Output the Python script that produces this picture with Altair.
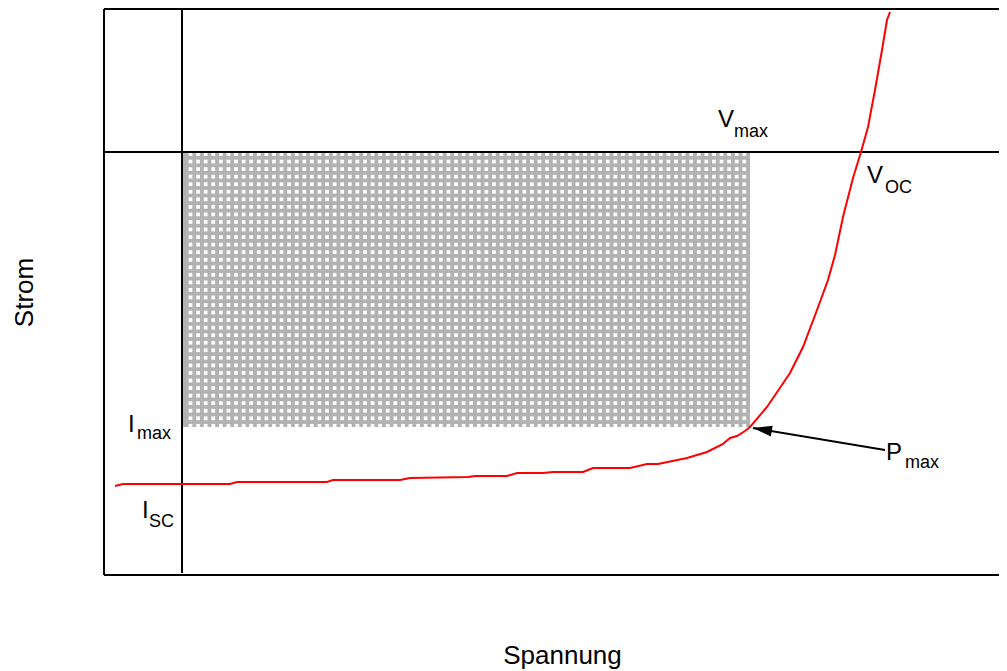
import math
import numpy as np
import pandas as pd
import altair as alt

# ---- data (V = Spannung units, I = Strom units) ----
curve_v = [11, 19, 126, 133, 223, 229, 296, 306, 364, 371,
           403, 413, 439, 449, 479, 489, 526, 543, 554, 583,
           593, 603, 619, 626, 633, 641, 646, 663, 686, 699,
           713, 724, 731, 739, 749, 757, 764, 771, 778, 783, 786]
curve_i = [89, 91, 91, 93, 93, 95, 95, 97, 98, 99,
           99, 102, 102, 103, 103, 107, 107, 111, 111, 117,
           120, 123, 131, 137, 139, 144, 148, 168, 202, 228,
           265, 295, 320, 358, 397, 423, 448, 485, 525, 555, 563]

v_zero = 78        # vertical reference line (I axis)
i_zero = 423       # horizontal reference line (V axis)
v_mpp = 646        # V at P_max
i_mpp = 148        # I at P_max
v_range = [0, 895]
i_range = [0, 566]

arrow_tail = (781, 125)
arrow_tip = (649, 147)

main_labels = ["V", "V", "I", "I", "P"]
main_v = [614, 763, 24, 38, 782]
main_i = [448, 392, 143, 57, 115]
sub_labels = ["max", "OC", "max", "SC", "max"]
sub_v = [630, 781, 33, 45, 801]
sub_i = [438, 382, 136, 48, 107]

# hatch texture of the MPP rectangle
hatch_v0, hatch_dv, hatch_cols = 86.5, 7.586, 74
hatch_i0, hatch_di, hatch_rows = 421.0, 7.55, 37

FONT = "Liberation Sans"

xs = alt.Scale(domain=v_range, nice=False, zero=False)
ys = alt.Scale(domain=i_range, nice=False, zero=False)
xaxis = alt.Axis(title="Spannung", titleX=458, titleY=88, titleAlign="center",
                 titleBaseline="alphabetic")
yaxis = alt.Axis(title="Strom", titleX=-72, titleY=283, titleAngle=270,
                 titleAlign="center", titleBaseline="alphabetic")


def X(f):
    return alt.X(f, type="quantitative", scale=xs, axis=xaxis)


def Y(f):
    return alt.Y(f, type="quantitative", scale=ys, axis=yaxis)


rect_df = pd.DataFrame({"v": [v_zero], "v2": [v_mpp], "i": [i_mpp], "i2": [i_zero]})
rect = alt.Chart(rect_df).mark_rect(color="#b2b2b2").encode(
    x=X("v"), x2=alt.X2("v2"), y=Y("i"), y2=alt.Y2("i2"))

gv, gi = np.meshgrid(hatch_v0 + hatch_dv * np.arange(hatch_cols),
                     hatch_i0 - hatch_di * np.arange(hatch_rows))
hatch_df = pd.DataFrame({"v": gv.ravel(), "i": gi.ravel()})
hatch = alt.Chart(hatch_df).mark_square(color="white", size=14, opacity=1).encode(
    x=X("v"), y=Y("i"))

hline = alt.Chart(pd.DataFrame({"i": [i_zero]})).mark_rule(
    color="black", strokeWidth=2).encode(y=Y("i"))
vline = alt.Chart(pd.DataFrame({"v": [v_zero], "i": [2], "i2": [i_range[1]]})).mark_rule(
    color="black", strokeWidth=2).encode(x=X("v"), y=Y("i"), y2=alt.Y2("i2"))

frame_h = alt.Chart(pd.DataFrame({"i": [i_range[0], i_range[1]]})).mark_rule(
    color="black", strokeWidth=2).encode(y=Y("i"))
frame_v = alt.Chart(pd.DataFrame({"v": [v_range[0]]})).mark_rule(
    color="black", strokeWidth=2).encode(x=X("v"))

curve_df = pd.DataFrame({"v": curve_v, "i": curve_i, "o": range(len(curve_v))})
curve = alt.Chart(curve_df).mark_line(color="red", strokeWidth=2).encode(
    x=X("v"), y=Y("i"), order="o:Q")

arrow_df = pd.DataFrame({"v": [arrow_tail[0]], "i": [arrow_tail[1]],
                         "v2": [arrow_tip[0]], "i2": [arrow_tip[1]]})
shaft = alt.Chart(arrow_df).mark_rule(color="black", strokeWidth=2).encode(
    x=X("v"), y=Y("i"), x2=alt.X2("v2"), y2=alt.Y2("i2"))
# screen angle (clockwise) of the head body, pointing from tip back to tail
ang = math.degrees(math.atan2(arrow_tip[1] - arrow_tail[1], arrow_tail[0] - arrow_tip[0])) % 360
head_df = pd.DataFrame({"v": [arrow_tip[0]], "i": [arrow_tip[1]]})
head = alt.Chart(head_df).mark_point(
    shape="M0,0L1,-0.29L1,0.29Z", filled=True, color="black", opacity=1,
    size=1444, angle=ang, strokeWidth=0).encode(x=X("v"), y=Y("i"))

main_df = pd.DataFrame({"v": main_v, "i": main_i, "t": main_labels})
main_txt = alt.Chart(main_df).mark_text(
    align="left", baseline="alphabetic", font=FONT, fontSize=24, color="black").encode(
    x=X("v"), y=Y("i"), text="t:N")
sub_df = pd.DataFrame({"v": sub_v, "i": sub_i, "t": sub_labels})
sub_txt = alt.Chart(sub_df).mark_text(
    align="left", baseline="alphabetic", font=FONT, fontSize=18, color="black").encode(
    x=X("v"), y=Y("i"), text="t:N")

chart = alt.layer(rect, hatch, hline, vline, frame_h, frame_v, curve, shaft, head,
                  main_txt, sub_txt).properties(
    width=895, height=566,
    autosize=alt.AutoSizeParams(type="none"),
    padding={"left": 96, "top": 1, "right": 0, "bottom": 96},
).configure_view(stroke=None).configure_axis(
    domain=False, ticks=False, labels=False, grid=False,
    titleFont=FONT, titleFontSize=26, titleFontWeight="normal", titleColor="black",
)

chart.save("out.html", embed_options={"renderer": "svg", "actions": False})
